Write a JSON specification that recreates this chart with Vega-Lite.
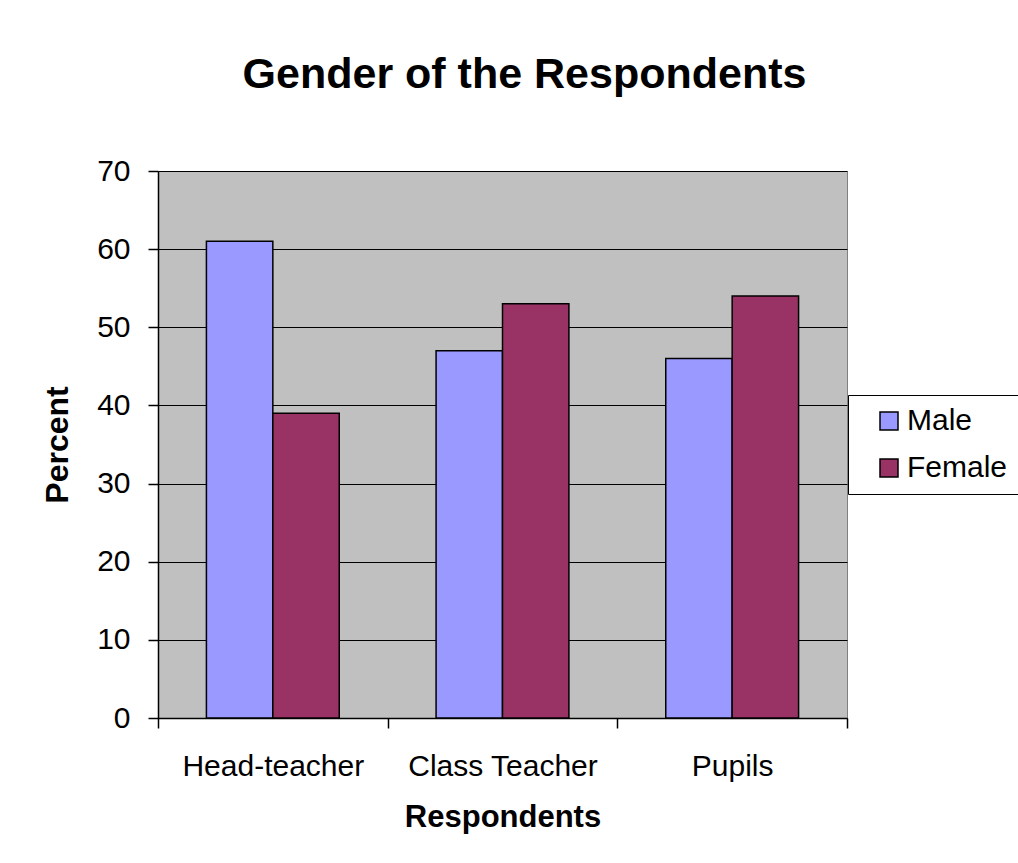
{
  "$schema": "https://vega.github.io/schema/vega-lite/v6.json",
  "autosize": {"type": "none"},
  "width": 689,
  "height": 547,
  "padding": {"left": 158, "top": 171, "right": 171, "bottom": 145},
  "background": "white",
  "config": {
    "font": "Liberation Sans",
    "view": {"fill": "#C0C0C0", "stroke": "#808080", "strokeWidth": 1}
  },
  "title": {
    "text": "Gender of the Respondents",
    "font": "Liberation Sans",
    "fontSize": 43,
    "fontWeight": "bold",
    "color": "black",
    "anchor": "middle",
    "dx": 22,
    "offset": 59
  },
  "data": {
    "values": [
      {"Respondents": "Head-teacher", "Gender": "Male", "Percent": 61},
      {"Respondents": "Head-teacher", "Gender": "Female", "Percent": 39},
      {"Respondents": "Class Teacher", "Gender": "Male", "Percent": 47},
      {"Respondents": "Class Teacher", "Gender": "Female", "Percent": 53},
      {"Respondents": "Pupils", "Gender": "Male", "Percent": 46},
      {"Respondents": "Pupils", "Gender": "Female", "Percent": 54}
    ]
  },
  "mark": {"type": "bar", "stroke": "black", "strokeWidth": 1.5},
  "encoding": {
    "x": {
      "field": "Respondents",
      "type": "nominal",
      "sort": ["Head-teacher", "Class Teacher", "Pupils"],
      "scale": {"paddingInner": 0, "paddingOuter": 0},
      "axis": {
        "title": "Respondents",
        "titleFontSize": 31,
        "titleFontWeight": "bold",
        "titleColor": "black",
        "titlePadding": 21,
        "labelAngle": 0,
        "labelFontSize": 30,
        "labelLimit": 400,
        "labelColor": "black",
        "labelPadding": 23,
        "tickBand": "extent",
        "tickSize": 10,
        "tickColor": "black",
        "tickWidth": 1.5,
        "domainColor": "black",
        "domainWidth": 1.5,
        "grid": false
      }
    },
    "xOffset": {
      "field": "Gender",
      "type": "nominal",
      "sort": ["Male", "Female"],
      "scale": {"paddingInner": 0, "paddingOuter": 0.729}
    },
    "y": {
      "field": "Percent",
      "type": "quantitative",
      "scale": {"domain": [0, 70], "nice": false},
      "axis": {
        "title": "Percent",
        "titleFontSize": 32,
        "titleFontWeight": "bold",
        "titleColor": "black",
        "titlePadding": 22,
        "values": [0, 10, 20, 30, 40, 50, 60, 70],
        "labelFontSize": 30,
        "labelColor": "black",
        "labelPadding": 18,
        "tickSize": 10,
        "tickColor": "black",
        "tickWidth": 1.5,
        "domainColor": "black",
        "domainWidth": 1.5,
        "grid": true,
        "gridColor": "black",
        "gridWidth": 1.2,
        "gridOpacity": 1
      }
    },
    "fill": {
      "field": "Gender",
      "type": "nominal",
      "sort": ["Male", "Female"],
      "scale": {"domain": ["Male", "Female"], "range": ["#9999FF", "#993366"]},
      "legend": {
        "title": null,
        "orient": "none",
        "legendX": 690,
        "legendY": 224,
        "strokeColor": "black",
        "fillColor": "white",
        "padding": 11,
        "symbolType": "square",
        "symbolSize": 324,
        "symbolStrokeColor": "black",
        "symbolStrokeWidth": 1.5,
        "symbolOffset": 15,
        "labelFontSize": 30,
        "labelColor": "black",
        "labelOffset": 3,
        "rowPadding": 17
      }
    }
  }
}
